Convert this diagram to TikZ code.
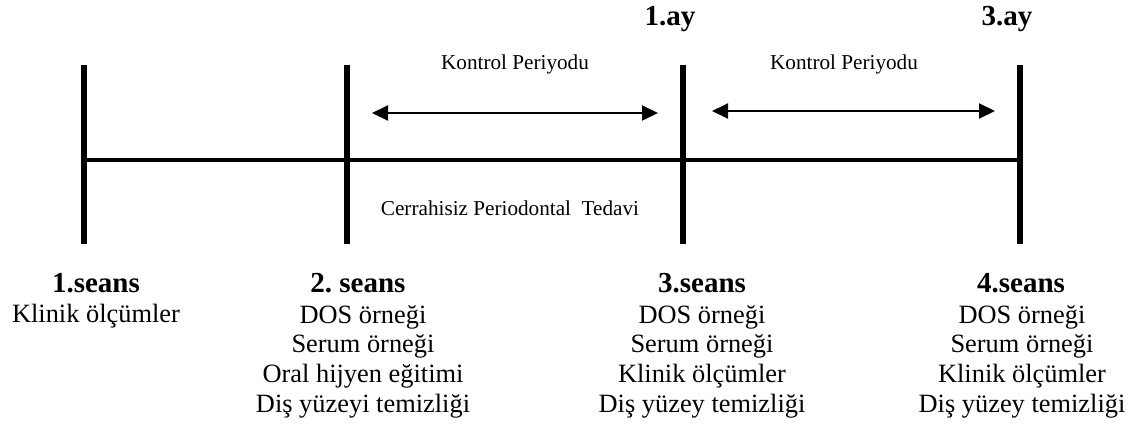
\documentclass[tikz,border=0pt]{standalone}
\usepackage{fontspec}
\setmainfont{Liberation Serif}
\usetikzlibrary{arrows.meta}
\frenchspacing

\begin{document}
\begin{tikzpicture}[x=1pt,y=-1pt,
  bar/.style={line width=6pt},
  axis/.style={line width=4pt},
  period/.style={line width=2pt,
    {Triangle[length=16pt,width=15pt]}-{Triangle[length=16pt,width=15pt]}},
  head/.style={font=\fontsize{29}{30}\selectfont\bfseries, inner sep=0pt, anchor=base},
  small/.style={font=\fontsize{21.2}{24}\selectfont, inner sep=0pt, anchor=base},
  body/.style={font=\fontsize{26.4}{30}\selectfont, inner sep=0pt, anchor=base}
  ]
  \useasboundingbox (0,0) rectangle (1140,424);
  % time points on the axis
  \foreach \n/\x in {1/84,2/347,3/683,4/1020}{
    \coordinate (top\n) at (\x,65);
    \coordinate (bot\n) at (\x,244);
    \coordinate (mid\n) at (\x,160);
  }
  \draw[axis] (mid1) -- (mid4);
  \foreach \n in {1,...,4}
    \draw[bar] (top\n) -- (bot\n);

  % control periods
  \coordinate (per1a) at (372,113);
  \coordinate (per1b) at (658,113);
  \coordinate (per2a) at (712,111);
  \coordinate (per2b) at (995,111);
  \draw[period] (per1a) -- (per1b);
  \draw[period] (per2a) -- (per2b);
  \node[small] (kontrol1) at (515,69) {Kontrol Periyodu};
  \node[small] (kontrol2) at (844,69) {Kontrol Periyodu};
  \node[small] (tedavi) at (510,215) {Cerrahisiz Periodontal\ \ Tedavi};
  \node[head] (ay1) at (670,25) {1.ay};
  \node[head] (ay3) at (1007,25) {3.ay};

  % sessions
  \node[head] (seans1) at (96,292) {1.seans};
  \node[body] (seans1-1) at (96,322) {Klinik ölçümler};

  \node[head] (seans2) at (358,292) {2. seans};
  \foreach \t [count=\i] in {DOS örneği, Serum örneği, Oral hijyen eğitimi, Diş yüzeyi temizliği}
    \node[body] (seans2-\i) at (363,{293.3+29.7*\i}) {\t};

  \node[head] (seans3) at (702,292) {3.seans};
  \foreach \t [count=\i] in {DOS örneği, Serum örneği, Klinik ölçümler, Diş yüzey temizliği}
    \node[body] (seans3-\i) at (702,{293.3+29.7*\i}) {\t};

  \node[head] (seans4) at (1021,292) {4.seans};
  \foreach \t [count=\i] in {DOS örneği, Serum örneği, Klinik ölçümler, Diş yüzey temizliği}
    \node[body] (seans4-\i) at (1022,{293.3+29.7*\i}) {\t};
\end{tikzpicture}
\end{document}
